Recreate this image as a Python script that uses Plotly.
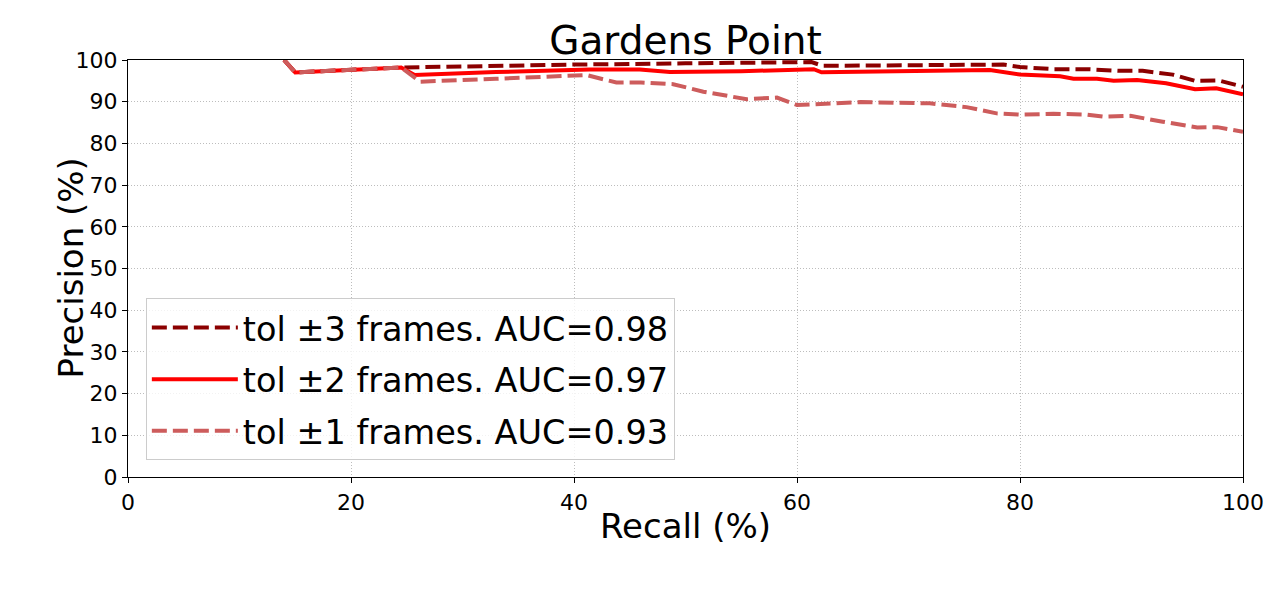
import plotly.graph_objects as go

# precision-recall curves (recall %, precision %)
recall_tol3 = [14, 15, 24.5, 30, 40, 50, 61.3, 62.3, 70, 78.5, 80, 83, 86, 87.5, 89, 91, 93.7, 95.7, 97.8, 100]
prec_tol3 = [100, 97, 98.2, 98.5, 98.9, 99.2, 99.5, 98.6, 98.7, 98.9, 98.3, 97.8, 97.8, 97.6, 97.4, 97.4, 96.5, 95.0, 95.1, 93.6]

recall_tol2 = [14, 15, 24.5, 25.7, 33, 41.4, 45.9, 48.6, 55, 61.5, 62.2, 70, 77.3, 80, 83.6, 84.8, 86.9, 88.4, 90.5, 93.1, 95.7, 97.6, 100]
prec_tol2 = [100, 97, 98.2, 96.4, 97.1, 97.7, 97.7, 97.1, 97.3, 97.8, 97.05, 97.3, 97.6, 96.5, 96.1, 95.5, 95.5, 95.0, 95.2, 94.4, 93.0, 93.2, 91.8]

recall_tol1 = [14, 15, 24.5, 26.2, 33, 41.1, 43.8, 46, 48.9, 51.6, 55.5, 58.2, 60, 65.7, 71.9, 75.2, 77.9, 80, 83, 86, 87.5, 89.9, 92.8, 95.9, 97.7, 100]
prec_tol1 = [100, 97, 98.2, 94.8, 95.5, 96.4, 94.6, 94.6, 94.2, 92.4, 90.6, 91.0, 89.2, 89.9, 89.6, 88.7, 87.2, 86.9, 87.1, 86.9, 86.4, 86.6, 85.2, 83.8, 83.9, 82.8]

labels = ["tol ±3 frames. AUC=0.98", "tol ±2 frames. AUC=0.97", "tol ±1 frames. AUC=0.93"]

FONT = "DejaVu Sans"
DASH = "15px,6px"

fig = go.Figure()
fig.add_trace(go.Scatter(x=recall_tol3, y=prec_tol3, name=labels[0], mode="lines",
                         legendgroup="a", line=dict(color="#8B0000", width=4, dash=DASH)))
fig.add_trace(go.Scatter(x=recall_tol2, y=prec_tol2, name=labels[1], mode="lines",
                         legendgroup="b", line=dict(color="#FF0000", width=4)))
fig.add_trace(go.Scatter(x=recall_tol1, y=prec_tol1, name=labels[2], mode="lines",
                         legendgroup="c", line=dict(color="#CD5C5C", width=4, dash=DASH)))

axis_common = dict(
    showline=True, linecolor="black", linewidth=1.3, mirror=True,
    ticks="outside", ticklen=5, tickcolor="black",
    showgrid=True, gridcolor="#bdbdbd", griddash="1px,2px", gridwidth=1,
    zeroline=False, tickfont=dict(family=FONT, size=22, color="black"),
)

fig.update_xaxes(range=[0, 100], dtick=20,
                 title=dict(text="Recall (%)", font=dict(family=FONT, size=34, color="black"), standoff=0),
                 **axis_common)
fig.update_yaxes(range=[0, 100], dtick=10, **axis_common)

# y title as an annotation so it can sit closer to the tick labels
fig.add_annotation(text="Precision (%)", textangle=-90, xref="paper", yref="paper",
                   x=-58 / 1115, y=0.5, xanchor="center", yanchor="middle", showarrow=False,
                   font=dict(family=FONT, size=34, color="black"))

# page body has an 8px margin, so the margins are shifted to keep the plot area at 128..1243 / 60..477
fig.update_layout(
    width=1281, height=596,
    margin=dict(l=120, r=46, t=52, b=127),
    plot_bgcolor="white", paper_bgcolor="white",
    title=dict(text="Gardens Point", x=0.5, xref="paper", xanchor="center",
               y=1 - 32 / 596, yref="container", yanchor="middle",
               font=dict(family=FONT, size=39, color="black")),
    legend=dict(x=0.016, y=0.04, xanchor="left", yanchor="bottom",
                bgcolor="rgba(255,255,255,0.8)", bordercolor="#cccccc", borderwidth=1,
                font=dict(family=FONT, size=33.5, color="black"),
                itemwidth=86, tracegroupgap=5, traceorder="grouped"),
)

fig.write_html("out.html")
